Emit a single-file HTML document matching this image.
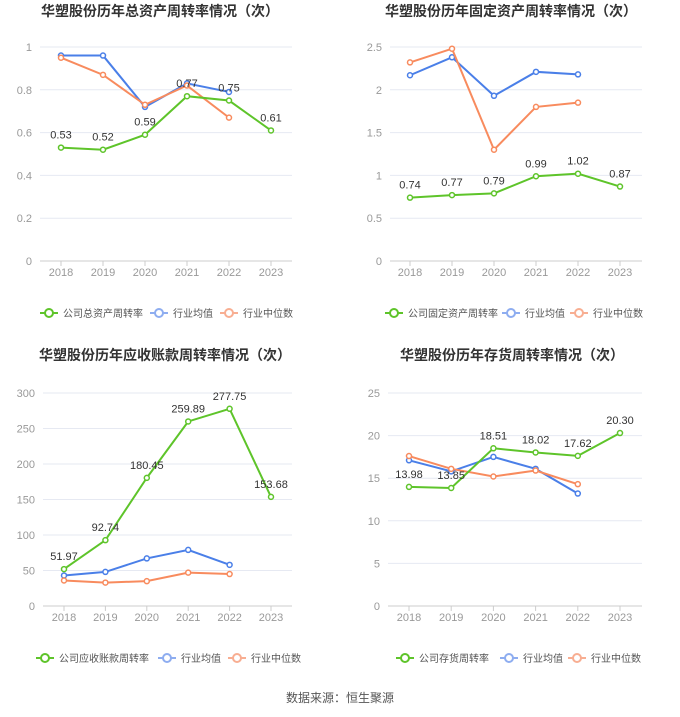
<!DOCTYPE html>
<html><head><meta charset="utf-8">
<style>
body{margin:0;background:#fff;font-family:"Liberation Sans","Noto Sans CJK SC",sans-serif;}
svg text{font-family:"Liberation Sans","Noto Sans CJK SC",sans-serif;}
</style></head>
<body>
<svg id="c" width="680" height="712" xmlns="http://www.w3.org/2000/svg">
<text x="340" y="702" text-anchor="middle" font-size="12" fill="#555">数据来源：恒生聚源</text>
</svg>
<script>
const years = ["2018","2019","2020","2021","2022","2023"];
const p1Title = "华塑股份历年总资产周转率情况（次）";
const p1Company = [0.53,0.52,0.59,0.77,0.75,0.61];
const p1Avg = [0.96,0.96,0.72,0.83,0.79];
const p1Med = [0.95,0.87,0.73,0.82,0.67];
const p1Ticks = [0,0.2,0.4,0.6,0.8,1];
const p1Legend = "公司总资产周转率";
const p2Title = "华塑股份历年固定资产周转率情况（次）";
const p2Company = [0.74,0.77,0.79,0.99,1.02,0.87];
const p2Avg = [2.17,2.38,1.93,2.21,2.18];
const p2Med = [2.32,2.48,1.30,1.80,1.85];
const p2Ticks = [0,0.5,1,1.5,2,2.5];
const p2Legend = "公司固定资产周转率";
const p3Title = "华塑股份历年应收账款周转率情况（次）";
const p3Company = [51.97,92.74,180.45,259.89,277.75,153.68];
const p3Avg = [43,48,67,79,58];
const p3Med = [36,33,35,47,45];
const p3Ticks = [0,50,100,150,200,250,300];
const p3Legend = "公司应收账款周转率";
const p4Title = "华塑股份历年存货周转率情况（次）";
const p4Company = [13.98,13.85,18.51,18.02,17.62,20.30];
const p4Avg = [17.1,15.8,17.5,16.1,13.2];
const p4Med = [17.6,16.1,15.2,15.9,14.3];
const p4Ticks = [0,5,10,15,20,25];
const p4Legend = "公司存货周转率";

const svg = document.getElementById('c');
const NS = "http://www.w3.org/2000/svg";
function mk(tag, attrs, parent){const e=document.createElementNS(NS,tag);for(const k in attrs)e.setAttribute(k,attrs[k]);(parent||svg).appendChild(e);return e;}

function panel(id, title, company, avg, med, ticks, legend, fmt, L){
  const g = mk('g',{});
  
  
  const maxV = ticks[ticks.length-1];
  const y = v => L.y0 - (v/maxV)*(L.y0-L.yTop);
  const x = i => L.x0 + i*(L.x5-L.x0)/5;
  const t = mk('text',{x:L.cx,y:L.ty,'text-anchor':'middle','font-size':14,'font-weight':'bold',fill:'#333'},g);
  t.textContent = title;
  
  
  ticks.forEach(v=>{
    if(v>0){const gl = mk('line',{x1:L.ax0,x2:L.ax1,y1:y(v),y2:y(v),stroke:'#e6e9f2','stroke-width':1},g);
      
      }
    const tl = mk('text',{x:L.ax0-8,y:y(v)+4,'text-anchor':'end','font-size':11,fill:'#999'},g);
    tl.textContent = String(v);
    
    
  });
  const ax = mk('line',{x1:L.ax0,x2:L.ax1,y1:L.y0,y2:L.y0,stroke:'#ccc','stroke-width':1},g);
  
  
  years.forEach((yr,i)=>{
    const tk = mk('line',{x1:x(i),x2:x(i),y1:L.y0,y2:L.y0+5,stroke:'#ccc'},g);
    
    
    const tl = mk('text',{x:x(i),y:L.y0+15,'text-anchor':'middle','font-size':11,fill:'#999'},g);
    tl.textContent = yr;
    
    
  });
  const series = [[avg,'#4a7fe8','industry-average-line'],[med,'#f88b5e','industry-median-line'],[company,'#5ec42a','company-line']];
  series.forEach(([d,c,n])=>{
    const pl = mk('polyline',{points:d.map((v,i)=>x(i)+','+y(v)).join(' '),fill:'none',stroke:c,'stroke-width':2},g);
    
    
    d.forEach((v,i)=>{
      const pt = mk('circle',{cx:x(i),cy:y(v),r:2.5,fill:'#fff',stroke:c,'stroke-width':1.5},g);
      
      
    });
  });
  company.forEach((v,i)=>{
    const lb = mk('text',{x:x(i),y:y(v)-9,'text-anchor':'middle','font-size':11,fill:'#333'},g);
    lb.textContent = fmt(v);
    
    
  });
  const items = [[legend,'#5ec42a',L.lx],['行业均值','#8eadf0',L.lx+L.o1],['行业中位数','#f8ae92',L.lx+L.o2]];
  items.forEach(([txt,c,lx])=>{
    const lg = mk('g',{},g);
    
    
    mk('line',{x1:lx,x2:lx+18,y1:L.ly,y2:L.ly,stroke:c,'stroke-width':2},lg);
    mk('circle',{cx:lx+9,cy:L.ly,r:4,fill:'#fff',stroke:c,'stroke-width':2},lg);
    const tx = mk('text',{x:lx+23,y:L.ly+4,'font-size':10,fill:'#555'},lg);
    tx.textContent = txt;
  });
}
const f2 = v=>v.toFixed(2);
panel('total-asset-turnover-panel',p1Title,p1Company,p1Avg,p1Med,p1Ticks,p1Legend,f2,
  {x0:61,x5:271,ax0:40,ax1:292,y0:261,yTop:47,cx:160,ty:16,lx:40,ly:313,o1:110,o2:180});
panel('fixed-asset-turnover-panel',p2Title,p2Company,p2Avg,p2Med,p2Ticks,p2Legend,f2,
  {x0:410,x5:620,ax0:390,ax1:642,y0:261,yTop:47,cx:511,ty:16,lx:385,ly:313,o1:117,o2:185});
panel('receivables-turnover-panel',p3Title,p3Company,p3Avg,p3Med,p3Ticks,p3Legend,f2,
  {x0:64,x5:271,ax0:43,ax1:292,y0:606,yTop:393,cx:165,ty:360,lx:36,ly:658,o1:122,o2:192});
panel('inventory-turnover-panel',p4Title,p4Company,p4Avg,p4Med,p4Ticks,p4Legend,f2,
  {x0:409,x5:620,ax0:388,ax1:642,y0:606,yTop:393,cx:512,ty:360,lx:396,ly:658,o1:104,o2:172});
</script>
</body></html>
